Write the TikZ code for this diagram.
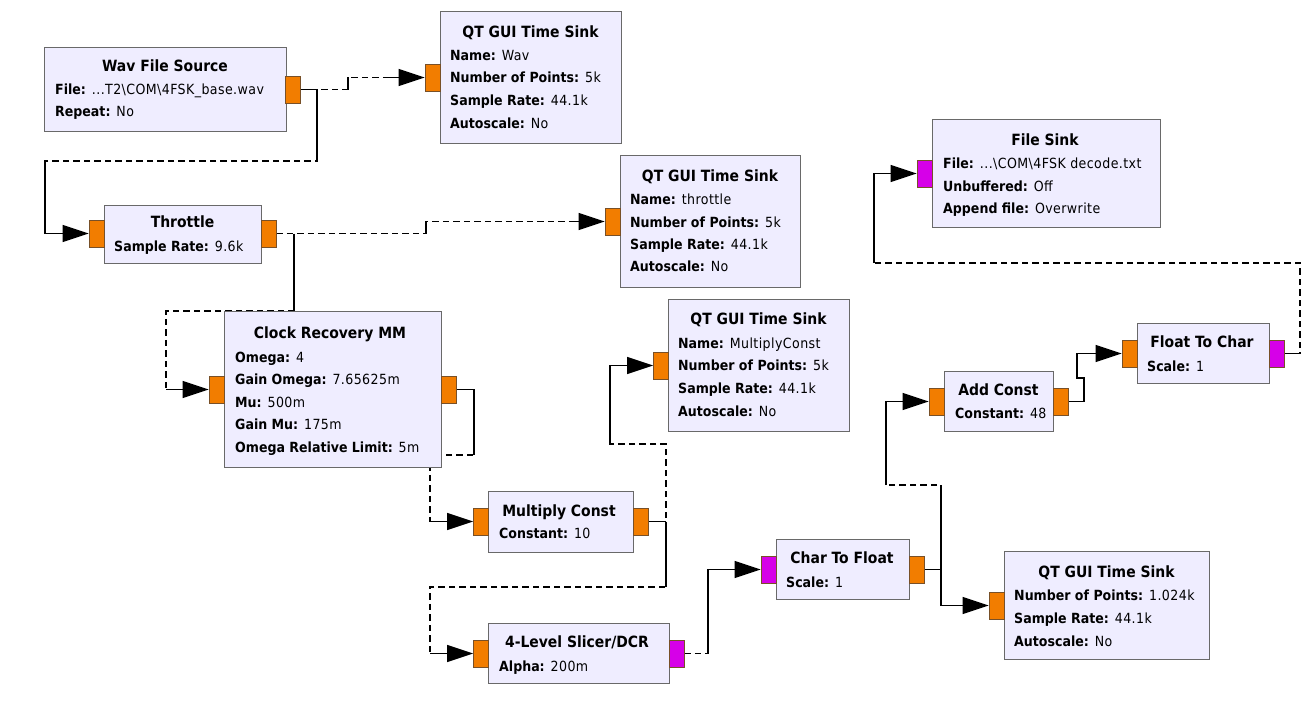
\documentclass[tikz,border=0pt]{standalone}
\usepackage{fontspec}
\setmainfont{DejaVu Sans Condensed}[UprightFeatures={LetterSpace=3}]
\usetikzlibrary{arrows.meta}
\definecolor{blkfill}{RGB}{239,237,255}
\definecolor{blkdraw}{RGB}{105,105,105}
\definecolor{fport}{RGB}{242,125,0}
\definecolor{bport}{RGB}{214,0,232}
\definecolor{pdraw}{RGB}{120,80,40}
\pgfdeclarelayer{back}
\pgfdeclarelayer{wires}
\pgfsetlayers{back,wires,main}
\begin{document}
\begin{tikzpicture}[x=1pt,y=-1pt,
 blk/.style={draw=blkdraw, fill=blkfill, line width=1.1pt, inner sep=0, anchor=north west},
 prt/.style={draw=pdraw, line width=0.8pt, minimum width=15pt, minimum height=27pt, inner sep=0},
 fp/.style={prt, fill=fport}, bp/.style={prt, fill=bport},
 w/.style={line width=1.45pt, black},
 wd/.style={w, dash pattern=on 6.5pt off 4pt},
 arr/.style={w, -{Triangle[length=26pt,width=17pt]}},
 ttl/.style={font=\fontsize{15.5}{18}\selectfont\bfseries, anchor=base, inner sep=0},
 ln/.style={font=\fontsize{14}{17}\selectfont, anchor=base west, inner sep=0}]
\useasboundingbox (0,0) rectangle (1312,709);
\begin{pgfonlayer}{back}
\fill[white] (0,0) rectangle (1312,709);
\end{pgfonlayer}

% ---------- blocks ----------
\node[blk, minimum width=242pt, minimum height=84pt] (wav) at (44,47) {};
\node[ttl] (wavt) at (165,71.5) {Wav File Source};
\node[ln] (wav1) at (55,95) {\textbf{File:} ...T2\textbackslash COM\textbackslash 4FSK\_base.wav};
\node[ln] (wav2) at (55,117) {\textbf{Repeat:} No};
\node[fp] (wavO) at (292.5,89.5) {};

\node[blk, minimum width=181pt, minimum height=132pt] (wavs) at (440,11) {};
\node[ttl] (wavst) at (530.5,37.5) {QT GUI Time Sink};
\node[ln] (wavs1) at (450,60) {\textbf{Name:} Wav};
\node[ln] (wavs2) at (450,83) {\textbf{Number of Points:} 5k};
\node[ln] (wavs3) at (450,105) {\textbf{Sample Rate:} 44.1k};
\node[ln] (wavs4) at (450,128) {\textbf{Autoscale:} No};
\node[fp] (wavsI) at (432.5,77.5) {};

\node[blk, minimum width=157pt, minimum height=58pt] (thr) at (104,205) {};
\node[ttl] (thrt) at (182.5,227.5) {Throttle};
\node[ln] (thr1) at (114,251) {\textbf{Sample Rate:} 9.6k};
\node[fp] (thrI) at (96.5,233.5) {};
\node[fp] (thrO) at (268.5,233.5) {};

\node[blk, minimum width=180pt, minimum height=132pt] (thrs) at (620,155) {};
\node[ttl] (thrst) at (710,181.5) {QT GUI Time Sink};
\node[ln] (thrs1) at (630,204) {\textbf{Name:} throttle};
\node[ln] (thrs2) at (630,227) {\textbf{Number of Points:} 5k};
\node[ln] (thrs3) at (630,249) {\textbf{Sample Rate:} 44.1k};
\node[ln] (thrs4) at (630,271) {\textbf{Autoscale:} No};
\node[fp] (thrsI) at (612.5,221.5) {};

\node[blk, minimum width=217pt, minimum height=156pt] (cr) at (224,311) {};
\node[ttl] (crt) at (330,338.5) {Clock Recovery MM};
\node[ln] (cr1) at (235,362) {\textbf{Omega:} 4};
\node[ln] (cr2) at (235,384) {\textbf{Gain Omega:} 7.65625m};
\node[ln] (cr3) at (235,407) {\textbf{Mu:} 500m};
\node[ln] (cr4) at (235,429) {\textbf{Gain Mu:} 175m};
\node[ln] (cr5) at (235,452) {\textbf{Omega Relative Limit:} 5m};
\node[fp] (crI) at (216.5,389.5) {};
\node[fp] (crO) at (448.5,389.5) {};

\node[blk, minimum width=145pt, minimum height=61pt] (mc) at (488,491) {};
\node[ttl] (mct) at (559,516.5) {Multiply Const};
\node[ln] (mc1) at (499,538) {\textbf{Constant:} 10};
\node[fp] (mcI) at (481,521.5) {};
\node[fp] (mcO) at (640.5,521.5) {};

\node[blk, minimum width=181pt, minimum height=132pt] (mcs) at (668,299) {};
\node[ttl] (mcst) at (758.5,324.5) {QT GUI Time Sink};
\node[ln] (mcs1) at (678,348) {\textbf{Name:} MultiplyConst};
\node[ln] (mcs2) at (678,370) {\textbf{Number of Points:} 5k};
\node[ln] (mcs3) at (678,393) {\textbf{Sample Rate:} 44.1k};
\node[ln] (mcs4) at (678,416) {\textbf{Autoscale:} No};
\node[fp] (mcsI) at (661,365.5) {};

\node[blk, minimum width=181pt, minimum height=60pt] (sl) at (488,623) {};
\node[ttl] (slt) at (577,647.5) {4-Level Slicer/DCR};
\node[ln] (sl1) at (499,671) {\textbf{Alpha:} 200m};
\node[fp] (slI) at (481,653.5) {};
\node[bp] (slO) at (676.5,653.5) {};

\node[blk, minimum width=133pt, minimum height=60pt] (cf) at (776,539) {};
\node[ttl] (cft) at (842,563.5) {Char To Float};
\node[ln] (cf1) at (786,587) {\textbf{Scale:} 1};
\node[bp] (cfI) at (768.5,569.5) {};
\node[fp] (cfO) at (916.5,569.5) {};

\node[blk, minimum width=205pt, minimum height=108pt] (s4) at (1004,551) {};
\node[ttl] (s4t) at (1106.5,577.5) {QT GUI Time Sink};
\node[ln] (s41) at (1014,600) {\textbf{Number of Points:} 1.024k};
\node[ln] (s42) at (1014,623) {\textbf{Sample Rate:} 44.1k};
\node[ln] (s43) at (1014,646) {\textbf{Autoscale:} No};
\node[fp] (s4I) at (996.5,605.5) {};

\node[blk, minimum width=109pt, minimum height=60pt] (ac) at (944,371) {};
\node[ttl] (act) at (998.5,395.5) {Add Const};
\node[ln] (ac1) at (955,418) {\textbf{Constant:} 48};
\node[fp] (acI) at (936.5,401.5) {};
\node[fp] (acO) at (1060.5,401.5) {};

\node[blk, minimum width=132pt, minimum height=60pt] (fc) at (1137,323) {};
\node[ttl] (fct) at (1202,347.5) {Float To Char};
\node[ln] (fc1) at (1147,371) {\textbf{Scale:} 1};
\node[fp] (fcI) at (1129.5,353.5) {};
\node[bp] (fcO) at (1276.5,353.5) {};

\node[blk, minimum width=228pt, minimum height=108pt] (fs) at (932,119) {};
\node[ttl] (fst) at (1045,145.5) {File Sink};
\node[ln] (fs1) at (943,168) {\textbf{File:} ...\textbackslash COM\textbackslash 4FSK decode.txt};
\node[ln] (fs2) at (943,191) {\textbf{Unbuffered:} Off};
\node[ln] (fs3) at (943,213) {\textbf{Append file:} Overwrite};
\node[bp] (fsI) at (924.5,173.5) {};

% ---------- connectors ----------
\begin{pgfonlayer}{wires}
% Wav -> sink
\draw[wd] (wavO.east) -| (348,77.5) -- (392,77.5);
\draw[w] (wavO.east) -- (312,89.5);
\draw[w] (348,89.5) -- (348,77.5);
\draw[arr] (386,77.5) -- (wavsI.west);
% Wav -> Throttle
\draw[wd] (wavO.east) -| (317,161) -| (45,233.5);
\draw[w] (317,89.5) -- (317,161);
\draw[w] (45,161) -- (45,233.5);
\draw[arr] (45,233.5) -- (thrI.west);
% Throttle -> sink
\draw[wd] (thrO.east) -| (426,221.5) -- (575,221.5);
\draw[w] (426,233.5) -- (426,221.5);
\draw[arr] (570,221.5) -- (thrsI.west);
% Throttle -> Clock Recovery
\draw[wd] (thrO.east) -| (294,311) -| (166,389.5);
\draw[w] (294,233.5) -- (294,311);
\draw[arr] (166,389.5) -- (crI.west);
% Clock Recovery -> Multiply Const
\draw[wd] (crO.east) -| (474,455) -| (430,521.5);
\draw[w] (crO.east) -| (474,455);
\draw[arr] (430,521.5) -- (mcI.west);
% Multiply Const -> sink
\draw[wd] (mcO.east) -| (666,444) -| (610,365.5);
\draw[w] (mcO.east) -- (666,521.5);
\draw[arr] (610,444) |- (mcsI.west);
% Multiply Const -> Slicer
\draw[wd] (mcO.east) -| (666,587) -| (430,653.5);
\draw[w] (666,521.5) -- (666,587);
\draw[arr] (430,653.5) -- (slI.west);
% Slicer -> Char To Float
\draw[wd] (slO.east) -- (708,653.5);
\draw[arr] (708,653.5) |- (cfI.west);
% Char To Float -> sink
\draw[arr] (cfO.east) -| (941,605.5) -- (s4I.west);
% Char To Float -> Add Const
\draw[wd] (cfO.east) -| (941,485) -| (886,401.5);
\draw[w] (941,569.5) -- (941,485);
\draw[arr] (886,485) |- (acI.west);
% Add Const -> Float To Char
\draw[arr] (acO.east) -| (1084,378) -| (1077,353.5) -- (fcI.west);
% Float To Char -> File Sink
\draw[wd] (fcO.east) -| (1300,263) -| (874,173.5);
\draw[w] (fcO.east) -- (1300,353.5);
\draw[arr] (874,263) |- (fsI.west);
\end{pgfonlayer}
\end{tikzpicture}
\end{document}
